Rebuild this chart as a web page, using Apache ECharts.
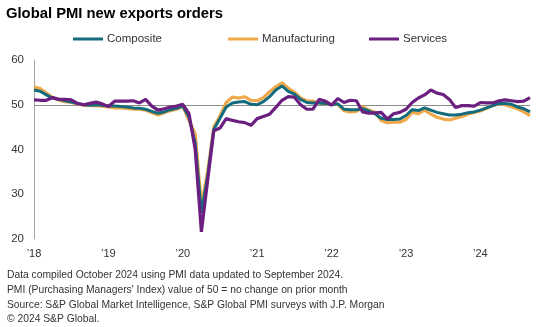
<!DOCTYPE html>
<html>
<head>
<meta charset="utf-8">
<title>Global PMI new exports orders</title>
<script src="https://cdn.jsdelivr.net/npm/echarts@6/dist/echarts.min.js"></script>
<style>
  html, body { margin: 0; padding: 0; background: #ffffff; }
  #chart { width: 539px; height: 327px; }
</style>
</head>
<body>
<div id="chart"></div>
<script>
// Monthly series, January 2018 to September 2024
const startYear = 2018;
const monthCount = 81;

const yearLabels = ["\u201918", "\u201919", "\u201920", "\u201921", "\u201922", "\u201923", "\u201924"];

const composite = [
  53.3, 53.0, 52.2, 51.5, 51.2, 50.9, 50.6, 50.3, 50.0, 49.9, 50.0, 49.9,
  49.7, 49.7, 49.6, 49.5, 49.3, 49.2, 49.0, 48.5, 48.1, 48.4, 48.9, 49.2,
  49.7, 47.2, 41.5, 25.8, 34.0, 44.5, 47.0, 49.5, 50.4, 50.6, 50.7, 50.1,
  50.0, 50.7, 51.8, 53.3, 54.2, 53.0, 52.4, 51.2, 50.5, 50.4, 50.4, 50.3,
  50.0, 50.2, 49.0, 48.9, 48.9, 49.1, 48.6, 48.0, 47.0, 46.7, 46.7, 46.8,
  47.6, 48.9, 48.7, 49.3, 48.8, 48.3, 48.0, 47.7, 47.7, 47.9, 48.2, 48.4,
  48.8, 49.3, 49.8, 50.3, 50.3, 50.1, 49.5, 49.1, 48.4
];

const manufacturing = [
  54.0, 53.6, 52.6, 51.6, 51.0, 50.7, 50.5, 50.2, 49.9, 49.8, 49.8, 49.7,
  49.5, 49.3, 49.3, 49.2, 49.0, 49.0, 48.8, 48.2, 47.7, 48.2, 48.7, 49.0,
  49.6, 46.5, 43.5, 27.5, 35.0, 45.0, 47.5, 50.5, 51.7, 51.5, 51.8, 51.0,
  50.9, 51.6, 52.9, 54.0, 54.9, 53.7, 52.8, 51.5, 50.9, 50.8, 50.4, 50.2,
  50.1, 50.1, 48.7, 48.4, 48.5, 49.6, 48.8, 48.3, 46.5, 46.0, 46.1, 46.1,
  46.7, 48.3, 48.0, 48.8, 47.9, 47.2, 46.8, 46.6, 47.0, 47.4, 47.9, 48.3,
  48.6, 49.2, 49.8, 50.3, 50.0, 49.5, 49.1, 48.4, 47.6
];

const services = [
  51.1, 51.0, 51.0, 51.6, 51.2, 51.2, 51.1, 50.3, 50.0, 50.3, 50.6, 50.2,
  49.6, 50.8, 50.8, 50.8, 50.9, 50.4, 51.2, 49.7, 48.8, 49.1, 49.5, 49.7,
  50.1, 48.0, 40.0, 21.6, 33.0, 44.2, 44.8, 46.9, 46.5, 46.2, 46.0, 45.4,
  46.9, 47.4, 47.9, 49.4, 51.0, 51.8, 51.7, 50.0, 49.0, 49.0, 51.2, 50.8,
  49.9, 51.4, 50.5, 51.0, 50.9, 48.4, 48.1, 48.2, 48.3, 46.8, 48.0, 48.3,
  49.0, 50.5, 51.5, 52.2, 53.3, 52.6, 52.3, 51.2, 49.4, 49.8, 49.8, 49.7,
  50.5, 50.4, 50.4, 50.9, 51.1, 50.9, 50.7, 50.8, 51.6
];

const yTicks = { min: 20, max: 60, step: 10 };
const neutralLevel = 50;

const colors = {
  composite: "#136b7c",
  manufacturing: "#f0a94a",
  services: "#6b1f80",
  text: "#333333",
  axis: "#a6a6a6"
};

// Month categories; the year label sits on each January
const months = [];
for (let i = 0; i < monthCount; i++) {
  const y = startYear + Math.floor(i / 12);
  const m = (i % 12) + 1;
  months.push(y + "-" + (m < 10 ? "0" + m : m));
}

const font = "'Liberation Sans', Arial, sans-serif";

const chart = echarts.init(document.getElementById("chart"), null, { renderer: "canvas" });

function legendFor(name, left) {
  return {
    data: [name],
    left: left,
    top: 33,
    icon: "rect",
    itemWidth: 30,
    itemHeight: 3,
    itemGap: 0,
    selectedMode: false,
    padding: 0,
    textStyle: { fontFamily: font, fontSize: 11.5, color: colors.text, padding: [0, 0, 0, -1] }
  };
}

chart.setOption({
  animation: false,
  backgroundColor: "#ffffff",
  title: {
    text: "Global PMI new exports orders",
    left: 6,
    top: 6,
    padding: 0,
    textStyle: { fontFamily: font, fontSize: 14.8, fontWeight: "bold", color: "#000000" }
  },
  legend: [
    legendFor("Composite", 73),
    legendFor("Manufacturing", 228),
    legendFor("Services", 369)
  ],
  grid: { left: 34, right: 9, top: 60, bottom: 88, containLabel: false },
  xAxis: {
    type: "category",
    data: months,
    boundaryGap: false,
    axisLine: { show: false },
    axisTick: { show: false },
    splitLine: { show: false },
    axisLabel: {
      interval: function (idx) { return idx % 12 === 0; },
      formatter: function (val, idx) { return yearLabels[Math.floor(idx / 12)]; },
      fontFamily: font,
      fontSize: 11,
      color: colors.text,
      margin: 9
    }
  },
  yAxis: {
    type: "value",
    min: yTicks.min,
    max: yTicks.max,
    interval: yTicks.step,
    axisLine: { show: true, lineStyle: { color: colors.axis, width: 1 } },
    axisTick: { show: false },
    splitLine: { show: false },
    axisLabel: { fontFamily: font, fontSize: 11.5, color: colors.text, margin: 10 }
  },
  series: [
    {
      name: "Manufacturing",
      type: "line",
      data: manufacturing,
      showSymbol: false,
      symbol: "none",
      lineStyle: { color: colors.manufacturing, width: 3.2 },
      itemStyle: { color: colors.manufacturing },
      z: 2,
      markLine: {
        silent: true,
        symbol: "none",
        label: { show: false },
        lineStyle: { color: "#8c8c8c", width: 1, type: "solid" },
        data: [{ yAxis: neutralLevel }],
        z: 1
      }
    },
    {
      name: "Composite",
      type: "line",
      data: composite,
      showSymbol: false,
      symbol: "none",
      lineStyle: { color: colors.composite, width: 3 },
      itemStyle: { color: colors.composite },
      z: 3
    },
    {
      name: "Services",
      type: "line",
      data: services,
      showSymbol: false,
      symbol: "none",
      lineStyle: { color: colors.services, width: 3.2 },
      itemStyle: { color: colors.services },
      z: 4
    }
  ],
  graphic: [
    {
      type: "text",
      left: 7,
      top: 268,
      style: {
        text: "Data compiled October 2024 using PMI data updated to September 2024.\nPMI (Purchasing Managers' Index) value of 50 = no change on prior month\nSource: S&P Global Market Intelligence, S&P Global PMI surveys with J.P. Morgan\n\u00a9 2024 S&P Global.",
        font: "10.3px " + font,
        fill: colors.text,
        lineHeight: 14.7
      }
    }
  ]
});
</script>
</body>
</html>
